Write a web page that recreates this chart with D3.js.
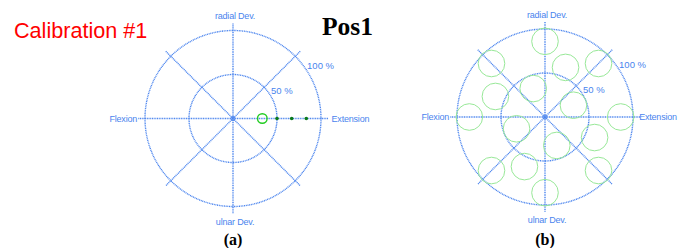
<!DOCTYPE html>
<html lang="en">
<head>
    <meta charset="UTF-8">
    <title>Calibration Pos1</title>
    <script src="https://d3js.org/d3.v7.min.js"></script>
    <style>
        body { margin: 0; background: #fff; }
        svg { display: block; }
    </style>
</head>
<body>
<svg></svg>
<script>

    var width = 678, height = 248;

    // chart data
    var ringPercents = [50, 100];
    var ringLabels = ["50 %", "100 %"];
    var axisAngles = [0, 45, 90, 135];                 // full lines through the centre
    var axisNames = ["Extension", "radial Dev.", "Flexion", "ulnar Dev."];
    var axisNameAngles = [0, 90, 180, 270];

    // panel (a): current target + path dots
    var targetAngleA = [0];
    var targetPctA = [33.3];
    var dotAngleA = [0, 0, 0];
    var dotPctA = [50, 66.7, 83.3];

    // panel (b): all 16 calibration targets
    var targetAngleB = [0, 45, 90, 135, 180, 225, 270, 315,
                        22.5, 112.5, 202.5, 292.5,
                        67.5, 157.5, 247.5, 337.5];
    var targetPctB = [86, 86, 86, 86, 86, 86, 86, 86,
                      35, 35, 35, 35,
                      61, 61, 61, 61];

    var blue = "#4a84ee";

    var svg = d3.select("svg").attr("width", width).attr("height", height);

    var r = d3.scaleLinear().domain([0, 100]).range([0, 88]);
    var rad = function (deg) { return deg * Math.PI / 180; };
    var px = function (deg, pct) { return r(pct) * Math.cos(rad(deg)); };
    var py = function (deg, pct) { return -r(pct) * Math.sin(rad(deg)); };

    // extPct: how far out the "Extension" label starts (right panel is tight on the edge)
    var drawPanel = function (cx, cy, caption, extPct) {
        var g = svg.append("g").attr("transform", "translate(" + cx + "," + cy + ")");

        g.selectAll("circle.ring")
            .data(ringPercents)
            .enter()
            .append("circle")
            .attr("class", "ring")
            .attr("r", function (d) { return r(d); })
            .attr("fill", "none")
            .attr("stroke", blue)
            .attr("stroke-width", 1.4)
            .attr("stroke-dasharray", "1,0.7");

        g.selectAll("line.axis")
            .data(axisAngles)
            .enter()
            .append("line")
            .attr("class", "axis")
            .attr("x1", function (d) { return px(d, 108); })
            .attr("y1", function (d) { return py(d, 108); })
            .attr("x2", function (d) { return px(d + 180, 108); })
            .attr("y2", function (d) { return py(d + 180, 108); })
            .attr("stroke", blue)
            .attr("stroke-width", 1.4)
            .attr("stroke-dasharray", "1,0.7");

        g.append("circle").attr("r", 2).attr("fill", "none")
            .attr("stroke", blue).attr("stroke-width", 1);

        // ring labels, a bit outside each circle at ~35 deg
        g.selectAll("text.ring")
            .data(ringPercents)
            .enter()
            .append("text")
            .attr("class", "ring")
            .attr("x", function (d) { return px(35, d) + 2; })
            .attr("y", function (d) { return py(35, d) + 1; })
            .attr("font-family", "Liberation Sans, Arial, sans-serif")
            .attr("font-size", 9.5)
            .attr("fill", blue)
            .text(function (d, i) { return ringLabels[i]; });

        g.selectAll("text.name")
            .data(axisNames)
            .enter()
            .append("text")
            .attr("class", "name")
            .attr("x", function (d, i) {
                var a = axisNameAngles[i];
                if (a === 0) return px(a, extPct);
                if (a === 180) return px(a, 109);
                return 2;
            })
            .attr("y", function (d, i) {
                var a = axisNameAngles[i];
                if (a === 90) return py(a, 113);
                if (a === 270) return py(a, 121);
                return 3;
            })
            .attr("text-anchor", function (d, i) {
                var a = axisNameAngles[i];
                return a === 0 ? "start" : (a === 180 ? "end" : "middle");
            })
            .attr("font-family", "Liberation Sans, Arial, sans-serif")
            .attr("font-size", 9)
            .attr("letter-spacing", -0.2)
            .attr("fill", blue)
            .text(function (d) { return d; });

        svg.append("text")
            .attr("x", cx)
            .attr("y", 245)
            .attr("text-anchor", "middle")
            .attr("font-family", "Liberation Serif, Times New Roman, serif")
            .attr("font-weight", "bold")
            .attr("font-size", 16)
            .attr("fill", "#000")
            .text(caption);

        return g;
    };

    var ga = drawPanel(233, 118.5, "(a)", 112);

    ga.selectAll("circle.dot")
        .data(dotPctA)
        .enter()
        .append("circle")
        .attr("class", "dot")
        .attr("cx", function (d, i) { return px(dotAngleA[i], d); })
        .attr("cy", function (d, i) { return py(dotAngleA[i], d); })
        .attr("r", 1.8)
        .attr("fill", "#0a7a1a");

    ga.selectAll("circle.target")
        .data(targetPctA)
        .enter()
        .append("circle")
        .attr("class", "target")
        .attr("cx", function (d, i) { return px(targetAngleA[i], d); })
        .attr("cy", function (d, i) { return py(targetAngleA[i], d); })
        .attr("r", 4.8)
        .attr("fill", "none")
        .attr("stroke", "#22cc22")
        .attr("stroke-width", 1.4);

    var gb = drawPanel(545, 117, "(b)", 107);

    gb.selectAll("circle.target")
        .data(targetPctB)
        .enter()
        .append("circle")
        .attr("class", "target")
        .attr("cx", function (d, i) { return px(targetAngleB[i], d); })
        .attr("cy", function (d, i) { return py(targetAngleB[i], d); })
        .attr("r", 13.3)
        .attr("fill", "none")
        .attr("stroke", "#98e898")
        .attr("stroke-width", 1);

    svg.append("text")
        .attr("x", 14)
        .attr("y", 37.5)
        .attr("font-family", "Liberation Sans, Arial, sans-serif")
        .attr("font-size", 21.6)
        .attr("fill", "#ff0000")
        .text("Calibration #1");

    svg.append("text")
        .attr("x", 322)
        .attr("y", 35)
        .attr("font-family", "Liberation Serif, Times New Roman, serif")
        .attr("font-weight", "bold")
        .attr("font-size", 25.5)
        .attr("fill", "#000")
        .text("Pos1");
</script>
</body>
</html>
